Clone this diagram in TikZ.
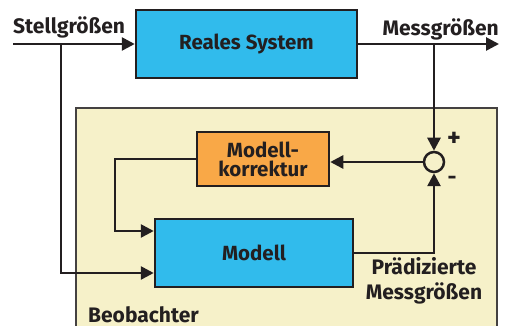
\documentclass[tikz,border=0pt]{standalone}
\usepackage{fontspec}
\setmainfont{Fira Sans}
\usetikzlibrary{arrows.meta,calc}
\definecolor{ink}{HTML}{231F20}
\definecolor{sysblue}{HTML}{31BBEC}
\definecolor{corrorange}{HTML}{F9A847}
\definecolor{obsbeige}{HTML}{F6F1C9}
\tikzset{
  block/.style={draw=ink, line width=2.5pt, font=\fontsize{20.5}{23}\selectfont\bfseries, text=ink, align=center, inner sep=0pt},
  bluebox/.style={block, fill=sysblue},
  orangebox/.style={block, fill=corrorange},
  wire/.style={draw=ink, line width=2.7pt},
  flow/.style={wire, -{Triangle[length=13pt,width=13pt]}},
  lbl/.style={font=\fontsize{21}{25}\selectfont\bfseries, text=ink, inner sep=0pt, align=center},
}
\begin{document}
\begin{tikzpicture}[x=1pt,y=-1pt]
  \useasboundingbox (0,0) rectangle (507,326);
  \clip (0,0) rectangle (507,326);

  % observer frame
  \node[draw=ink!85, line width=2.2pt, fill=obsbeige, minimum width=421pt, minimum height=240pt, anchor=north west, inner sep=0pt] (obs) at (75,107) {};

  % blocks
  \node[bluebox, minimum width=221pt, minimum height=68pt] (sys) at (246.5,44) {Reales System};
  \node[orangebox, minimum width=132pt, minimum height=54pt] (korr) at (263,159) {Modell-\\[-4pt]korrektur};
  \node[bluebox, minimum width=198pt, minimum height=68pt] (model) at (254,253) {Modell};
  \node[draw=ink, line width=2.5pt, fill=obsbeige, circle, minimum size=20pt, inner sep=0pt] (sum) at (434,162) {};

  % signal points
  \coordinate (in) at (13,44);
  \coordinate (out) at (499,44);
  \coordinate (tapin) at (61,44);
  \coordinate (tapout) at (434,44);
  \coordinate (fbx) at (115,159);
  \coordinate (predx) at (434,253);

  % connectors
  \draw[flow] (in) -- (sys.west);
  \draw[flow] (sys.east) -- (out);
  \draw[flow] (tapin) |- ($(model.west)+(0,20)$);
  \draw[flow] (tapout) -- (sum.north);
  \draw[flow] (sum.west) -- (sum.west -| korr.east);
  \draw[flow] (korr.west) -- (fbx) |- ($(model.west)+(0,-22)$);
  \draw[flow] (model.east) -- (predx) -- (sum.south);

  % labels
  \node[lbl, anchor=west] (lin) at (13,27) {Stellgrößen};
  \node[lbl, anchor=east] (lout) at (499,29) {Messgrößen};
  \node[lbl, font=\fontsize{26}{26}\selectfont\bfseries] (plus) at (454,139) {+};
  \node[lbl, font=\fontsize{22}{22}\selectfont\bfseries] (minus) at (452,180) {-};
  \node[lbl] (pred) at (424,281) {Prädizierte\\Messgrößen};
  \node[lbl, anchor=west] (lobs) at (88,314.5) {Beobachter};
\end{tikzpicture}
\end{document}
